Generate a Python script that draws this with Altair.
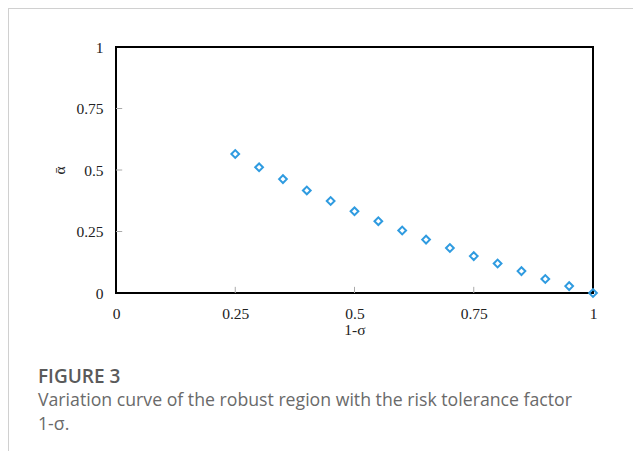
import altair as alt
import pandas as pd

x_vals = [0.25, 0.30, 0.35, 0.40, 0.45, 0.50, 0.55, 0.60, 0.65, 0.70, 0.75, 0.80, 0.85, 0.90, 0.95, 1.00]
y_vals = [0.565, 0.511, 0.463, 0.417, 0.374, 0.332, 0.292, 0.254, 0.217, 0.183, 0.150, 0.120, 0.089, 0.057, 0.028, 0.0]
axis_ticks = [0, 0.25, 0.5, 0.75, 1]
inner_ticks = [0.25, 0.5, 0.75]
caption_title = "FIGURE 3"
caption_text = "Variation curve of the robust region with the risk tolerance factor\n1-σ."

df = pd.DataFrame({"x": x_vals, "y": y_vals})
tk = pd.DataFrame({"v": inner_ticks})

W, H = 477, 246
serif = "Liberation Serif"

xs = alt.Scale(domain=[0, 1], nice=False, zero=True)
ys = alt.Scale(domain=[0, 1], nice=False, zero=True)

def ax(pad):
    return alt.Axis(values=axis_ticks, labelExpr="format(datum.value, '.2~f')",
                    ticks=False, domain=False, grid=False,
                    labelFont=serif, labelFontSize=15.5, labelColor="#222",
                    labelPadding=13, labelFlush=False,
                    titleFont=serif, titleFontSize=15.5, titleFontWeight="normal",
                    titleColor="#222", titlePadding=pad)

pts = alt.Chart(df).mark_point(
    shape="diamond", filled=False, size=60, strokeWidth=2, color="#2f9be0", opacity=1
).encode(
    x=alt.X("x:Q", scale=xs, title="1-σ", axis=ax(1)),
    y=alt.Y("y:Q", scale=ys, title="ᾱ", axis=ax(8)),
)

xticks = alt.Chart(tk).mark_rule(color="#aaa", strokeWidth=1).encode(
    x=alt.X("v:Q", scale=xs), y=alt.datum(0), y2=alt.datum(0.025)
)
yticks = alt.Chart(tk).mark_rule(color="#aaa", strokeWidth=1).encode(
    y=alt.Y("v:Q", scale=ys), x=alt.datum(0), x2=alt.datum(0.013)
)

frame_top = alt.Chart(tk).mark_rule(color="#d0d0d0", strokeWidth=1).encode(
    x=alt.value(-107.5), x2=alt.value(W + 40), y=alt.value(-38.5)
)
frame_left = alt.Chart(tk).mark_rule(color="#d0d0d0", strokeWidth=1).encode(
    x=alt.value(-107.5), y=alt.value(-38.5), y2=alt.value(H + 160)
)

cap_t = alt.Chart(pd.DataFrame({"t": [caption_title]})).mark_text(
    align="left", baseline="middle", font="Open Sans", fontSize=19, fontWeight=600, color="#5a5a5a"
).encode(text="t:N", x=alt.value(-78), y=alt.value(330))

cap_s = alt.Chart(pd.DataFrame({"t": [caption_text]})).mark_text(
    align="left", baseline="middle", font="Open Sans", fontSize=17.7, color="#6a6a6a",
    lineBreak="\n", lineHeight=24
).encode(text="t:N", x=alt.value(-78), y=alt.value(354))

chart = alt.layer(frame_top, frame_left, xticks, yticks, pts, cap_t, cap_s).properties(
    width=W, height=H,
    autosize=alt.AutoSizeParams(type="none"),
    padding={"left": 108, "top": 39, "right": 40, "bottom": 158},
).configure_view(stroke="black", strokeWidth=2)

chart.save("out.html", embed_options={"renderer": "svg", "actions": False})
